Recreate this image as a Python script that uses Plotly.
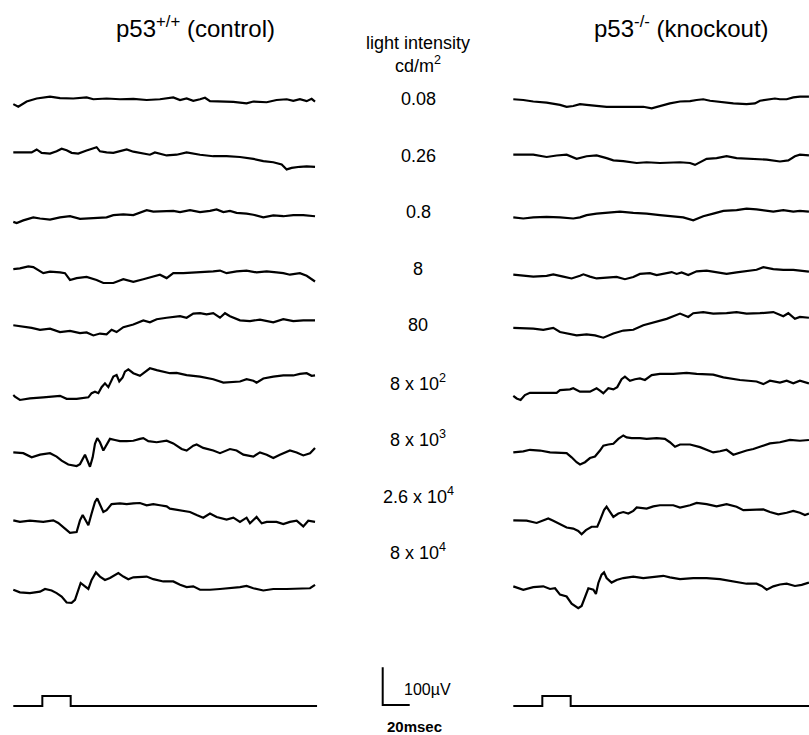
import plotly.graph_objects as go

# ---------------- data: ERG traces, (time ms, amplitude µV) ----------------
# p53+/+ (control)
ctrl_0_08 = [(0,-11),(3.7,-18),(9.9,-4),(17.3,4),(27.2,9),(34.6,5),(44.4,4),(54.3,7),(59.3,2),(69.1,4),(79,2),(88.9,3),(98.8,0),(108.6,2),(118.5,7),(123.5,0),(128.4,4),(133.3,-2),(138.3,2),(142,6),(145.7,-3),(153.1,-4),(163,-5),(172.8,-9),(177.8,-4),(187.7,-6),(195,0),(202.5,2),(207.4,-2),(212.3,2),(217.3,-3),(221,3),(223.5,-4)]
ctrl_0_26 = [(0,11),(7.4,10),(13.6,11),(17.3,19),(21,10),(27.2,8),(32.1,14),(35.8,21),(39.5,17),(43.2,10),(48.1,8),(54.3,16),(58,20),(61.7,25),(64.2,14),(69.1,11),(74.1,10),(79,14),(84,19),(88.9,13),(96.3,8),(101.2,5),(104.9,11),(108.6,8),(113.6,3),(121,5),(128.4,11),(138.3,5),(148.1,1),(158,1),(167.9,-1),(177.8,-6),(185.2,-12),(192.6,-15),(198.8,-21),(202.5,-34),(206.2,-30),(212.3,-27),(217.3,-26),(223.5,-27)]
ctrl_0_8 = [(0,-23),(2.5,-26),(7.4,-19),(14.8,-11),(19.8,-14),(27.2,-17),(34.6,-11),(42,-8),(49.4,-15),(56.8,-14),(64.2,-13),(69.1,-11),(74.1,-5),(81.5,-3),(88.9,-5),(93.8,1),(98.8,8),(103.7,4),(108.6,5),(118.5,6),(123.5,3),(130.9,8),(138.3,3),(145.7,6),(150.6,10),(155.6,3),(160.5,6),(165.4,1),(172.8,-1),(177.8,-4),(185.2,-11),(192.6,-6),(200,-8),(207.4,-5),(214.8,-5),(223.5,-8)]
ctrl_8 = [(0,2),(4.9,4),(11.1,9),(14.8,7),(22.2,-9),(27.2,-5),(34.6,-7),(38.3,-9),(42,-27),(46.9,-22),(54.3,-19),(61.7,-27),(66.7,-35),(74.1,-35),(81.5,-25),(88.9,-32),(96.3,-25),(103.7,-18),(108.6,-13),(113.6,-22),(118.5,-9),(125.9,-9),(138.3,-7),(148.1,-4),(153.1,-2),(158,-9),(165.4,-4),(172.8,-2),(180.2,-7),(187.7,-4),(195,-7),(200,-9),(204.9,-13),(212.3,-9),(217.3,-16),(223.5,-31)]
ctrl_80 = [(0,3),(7.4,0),(13.6,-4),(19.8,-9),(27.2,-6),(34.6,-15),(42,-12),(49.4,-18),(54.3,-16),(59.3,-24),(64.2,-19),(69.1,-21),(72.8,-9),(76.5,-15),(81.5,-2),(88.9,5),(96.3,16),(101.2,11),(106.2,19),(113.6,23),(123.5,27),(128.4,23),(133.3,34),(138.3,35),(143.2,32),(148.1,35),(153.1,23),(156.8,35),(160.5,27),(167.9,16),(175.3,14),(182.7,18),(192.6,11),(200,19),(207.4,14),(214.8,16),(223.5,16)]
ctrl_8e2 = [(0,-32),(1.2,-36),(4.9,-45),(12.3,-41),(22.2,-38),(34.6,-34),(39.5,-42),(46.9,-42),(55.6,-38),(58,-27),(60.5,-23),(63,-27),(65.4,-11),(67.9,-1),(70.4,-11),(71.6,-1),(74.1,17),(76.5,21),(78.5,4),(81,15),(82.7,30),(85.2,36),(88.9,26),(93.8,19),(96.3,26),(101.2,39),(106.2,34),(111.1,30),(116,26),(121,27),(128.4,21),(138.3,17),(148.1,10),(155.6,1),(163,3),(167.9,4),(172.8,10),(177.8,6),(180.2,1),(185.2,12),(192.6,17),(200,20),(207.4,20),(212.3,24),(217.3,26),(221,19),(223.5,20)]
ctrl_8e3 = [(0,-34),(7.4,-36),(13.6,-47),(19.8,-40),(27.2,-36),(32.1,-45),(35.8,-56),(40.7,-66),(46.9,-70),(49.4,-65),(53.1,-40),(54.8,-56),(56.8,-72),(58.8,-47),(60.5,-11),(62.2,4),(64.2,-7),(66.7,-29),(68.6,-16),(71.6,2),(75.3,-1),(79,-4),(84,-4),(88.9,-3),(93.8,2),(96.3,4),(100,-4),(106.2,-7),(113.6,-3),(118.5,-10),(124.7,-25),(128.4,-29),(133.3,-16),(135.8,-13),(140.7,-22),(148.1,-29),(153.1,-36),(160.5,-25),(165.4,-29),(170.4,-40),(177.8,-45),(182.7,-34),(187.7,-40),(192.6,-49),(197.5,-40),(204.9,-29),(209.9,-34),(214.8,-42),(219.8,-36),(223.5,-22)]
ctrl_2_6e4 = [(0,-64),(4.9,-68),(12.3,-65),(22.2,-68),(29.6,-64),(33.3,-71),(38.3,-86),(42,-97),(46.9,-95),(49.4,-64),(51.4,-50),(53.8,-64),(55.6,-77),(58,-46),(60.5,-15),(62.2,-6),(64.2,-24),(66.7,-42),(69.1,-37),(72.8,-21),(79,-19),(84,-21),(88.9,-19),(93.8,-18),(98.8,-24),(103.7,-21),(108.6,-24),(113.6,-27),(116,-33),(123.5,-37),(130.9,-42),(135.8,-50),(140.7,-57),(145.7,-46),(150.6,-55),(158,-62),(163,-57),(167.9,-68),(172.8,-57),(175.3,-72),(180.2,-55),(184,-72),(187.7,-68),(195,-68),(200,-74),(204.9,-68),(209.9,-65),(214.8,-80),(218.5,-65),(223.5,-68)]
ctrl_8e4 = [(0,-98),(4.9,-105),(12.3,-107),(19.8,-103),(23.5,-96),(28.4,-100),(32.1,-107),(35.8,-116),(39.5,-132),(43.2,-133),(45.7,-125),(48.1,-98),(49.9,-80),(53.1,-89),(55.6,-96),(58,-72),(61.2,-52),(64.2,-63),(67.9,-72),(71.6,-67),(75.3,-58),(77.8,-54),(81.5,-63),(85.2,-70),(88.9,-65),(93.8,-65),(98.8,-63),(103.7,-70),(111.1,-76),(118.5,-76),(123.5,-85),(128.4,-91),(133.3,-89),(138.3,-98),(145.7,-98),(153.1,-96),(160.5,-94),(167.9,-91),(172.8,-88),(177.8,-94),(185.2,-100),(192.6,-96),(202.5,-96),(212.3,-96),(219.8,-94),(223.5,-85)]

# p53-/- (knockout)
ko_0_08 = [(0,2),(7.4,0),(14.8,-4),(24.7,-7),(34.6,-13),(39.5,-18),(44.4,-16),(49.4,-11),(54.3,-13),(61.7,-16),(69.1,-18),(79,-18),(88.9,-19),(96.3,-18),(102.5,-22),(108.6,-16),(116,-9),(123.5,-4),(130.9,-3),(135.8,0),(140.7,2),(145.7,-2),(153.1,-5),(163,-9),(172.8,-11),(179,-9),(182.7,-2),(190.1,2),(193.8,4),(197.5,2),(202.5,2),(207.4,7),(212.3,9),(219,9)]
ko_0_26 = [(0,5),(7.4,4),(14.8,5),(24.7,-1),(32.1,3),(39.5,5),(46.9,-6),(54.3,1),(61.7,3),(69.1,-4),(74.1,-10),(81.5,-12),(91.4,-17),(98.8,-15),(108.6,-17),(123.5,-15),(130.9,-17),(134.6,-22),(138.3,-15),(143.2,-6),(150.6,-4),(158,1),(165.4,-4),(172.8,-6),(180.2,-6),(187.7,-8),(197.5,-13),(203.7,-10),(208.6,1),(212.3,5),(219,3)]
ko_0_8 = [(0,-11),(7.4,-14),(14.8,-11),(24.7,-10),(34.6,-11),(44.4,-14),(49.4,-11),(54.3,-5),(61.7,-1),(69.1,1),(79,4),(88.9,1),(98.8,-1),(108.6,-5),(118.5,-8),(125.9,-11),(133.3,-19),(140.7,-8),(148.1,-1),(155.6,6),(165.4,8),(172.8,12),(180.2,10),(187.7,6),(192.6,4),(200,8),(207.4,4),(212.3,6),(219,4)]
ko_8 = [(0,-13),(7.4,-16),(14.8,-18),(24.7,-16),(29.6,-12),(37,-18),(43.2,-23),(49.4,-16),(51.9,-12),(56.8,-18),(61.7,-23),(69.1,-21),(76.5,-19),(82.7,-25),(88.9,-19),(93.8,-11),(101.2,-9),(106.2,-14),(113.6,-9),(117.3,-6),(121,-11),(124.7,-7),(129.6,-14),(135.8,-4),(143.2,-2),(150.6,-7),(158,-11),(165.4,-7),(172.8,-4),(180.2,0),(185.2,7),(192.6,2),(200,0),(207.4,0),(219,-5)]
ko_80 = [(0,-4),(7.4,-4),(14.8,-6),(22.2,-9),(29.6,-4),(34.6,-15),(39.5,-18),(46.9,-24),(54.3,-21),(60.5,-24),(66.7,-30),(74.1,-19),(81.5,-11),(88.9,-9),(96.3,3),(103.7,11),(113.6,20),(123.5,34),(129.6,25),(133.3,35),(140.7,38),(148.1,34),(158,35),(165.4,38),(172.8,34),(182.7,35),(192.6,38),(200,27),(203.7,35),(208.6,20),(212.3,25),(219,23)]
ko_8e2 = [(0,-34),(2.5,-41),(5.4,-45),(8.6,-32),(12.3,-26),(22.2,-26),(32.1,-26),(34.6,-19),(42,-17),(44.4,-14),(49.4,-23),(56.8,-23),(61.7,-14),(64.2,-20),(66.7,-27),(70.4,-14),(74.1,-17),(77,-11),(80.2,10),(82.7,17),(86.4,6),(90.1,10),(93.8,12),(97.5,8),(102.5,21),(108.6,24),(118.5,24),(128.4,27),(135.8,24),(148.1,22),(155.6,15),(167.9,8),(180.2,4),(185.2,-3),(190.1,6),(197.5,1),(202.5,6),(207.4,-1),(212.3,6),(219,-1)]
ko_8e3 = [(0,-34),(7.4,-31),(12.3,-27),(19.8,-29),(27.2,-34),(34.6,-34),(39.5,-36),(43.2,-47),(46.9,-60),(49.4,-66),(53.1,-60),(56.8,-49),(60.5,-45),(64.2,-29),(66.7,-16),(70.4,-13),(74.1,-11),(77.8,2),(81.5,11),(84,6),(87.7,4),(93.8,4),(98.8,2),(106.2,4),(112.3,2),(116,-7),(119.8,-19),(123.5,-13),(130.9,-13),(138.3,-20),(143.2,-27),(148.1,-34),(153.1,-31),(158,-27),(163,-40),(167.9,-34),(172.8,-29),(177.8,-25),(182.7,-19),(190.1,-10),(197.5,-7),(204.9,-1),(212.3,-3),(219,-1)]
ko_2_6e4 = [(0,-64),(9.9,-65),(17.3,-71),(22.2,-65),(25.9,-59),(29.6,-65),(34.6,-74),(39.5,-83),(44.4,-86),(48.1,-92),(50.6,-101),(53.8,-90),(58,-81),(62.2,-81),(64.2,-64),(67.2,-37),(69.1,-28),(71.6,-42),(74.1,-55),(77.8,-46),(81.5,-42),(85.2,-46),(88.9,-39),(91.4,-30),(98.8,-33),(103.7,-27),(108.6,-24),(118.5,-24),(123.5,-30),(130.9,-24),(135.8,-18),(143.2,-21),(150.6,-27),(158,-21),(165.4,-28),(170.4,-37),(180.2,-37),(185.2,-35),(190.1,-42),(196.3,-48),(202.5,-44),(207.4,-39),(212.3,-44),(216,-50),(219,-46)]
ko_8e4 = [(0,-89),(7.4,-98),(14.8,-91),(22.2,-89),(27.2,-96),(30.9,-94),(34.6,-111),(39.5,-116),(43.2,-135),(48.1,-147),(50.6,-141),(53.1,-116),(55.6,-94),(59.3,-98),(61.2,-109),(63,-80),(65.4,-58),(67.2,-52),(69.1,-67),(72.8,-79),(76.5,-72),(81.5,-67),(88.9,-63),(96.3,-67),(103.7,-65),(111.1,-61),(116,-65),(123.5,-70),(133.3,-67),(143.2,-67),(153.1,-70),(163,-76),(172.8,-82),(180.2,-82),(184,-88),(187.7,-98),(192.6,-89),(197.5,-84),(202.5,-82),(208.6,-88),(213.6,-85),(219,-79)]

control_traces = [ctrl_0_08, ctrl_0_26, ctrl_0_8, ctrl_8, ctrl_80, ctrl_8e2, ctrl_8e3, ctrl_2_6e4, ctrl_8e4]
knockout_traces = [ko_0_08, ko_0_26, ko_0_8, ko_8, ko_80, ko_8e2, ko_8e3, ko_2_6e4, ko_8e4]

intensity_labels = ["0.08", "0.26", "0.8", "8", "80", "8 x 10<sup>2</sup>", "8 x 10<sup>3</sup>",
                    "2.6 x 10<sup>4</sup>", "8 x 10<sup>4</sup>"]

# stimulus marker (ms): off, on, off
stim_times = [0, 21.5, 21.5, 42.5, 42.5, 225]
stim_level = [0, 0, 1, 1, 0, 0]

scale_uv = 100   # vertical scale bar, µV
scale_ms = 20    # horizontal scale bar, ms

# ---------------- geometry ----------------
W, H = 809, 735
PX_PER_MS = 1.35
PX_PER_UV = 0.377
ROW0_PX, ROW_STEP_PX = 100, 56.6
LEFT_X0_PX, RIGHT_X0_PX = 13.3, 513.3
STIM_PX, STIM_H_PX = 706, 10

def px_to_ms(px):
    return px / PX_PER_MS

def px_to_uv(px):
    return -px / PX_PER_UV

FONT = "Liberation Sans, Arial, Helvetica, sans-serif"
LINE = dict(color="black", width=2.2)

fig = go.Figure()

for panel, x0_px in ((control_traces, LEFT_X0_PX), (knockout_traces, RIGHT_X0_PX)):
    x_off = px_to_ms(x0_px)
    for i, tr in enumerate(panel):
        base = px_to_uv(ROW0_PX + ROW_STEP_PX * i)
        fig.add_trace(go.Scatter(
            x=[t + x_off for t, _ in tr],
            y=[v + base for _, v in tr],
            mode="lines", line=LINE, hoverinfo="skip", showlegend=False))
    # stimulus trace
    sbase = px_to_uv(STIM_PX)
    sh = STIM_H_PX / PX_PER_UV
    fig.add_trace(go.Scatter(
        x=[t + x_off for t in stim_times],
        y=[sbase + s * sh for s in stim_level],
        mode="lines", line=dict(color="black", width=2), hoverinfo="skip", showlegend=False))

# scale bar
sb_x = px_to_ms(382.7)
sb_y = px_to_uv(705)
fig.add_trace(go.Scatter(
    x=[sb_x, sb_x, sb_x + scale_ms],
    y=[sb_y + scale_uv, sb_y, sb_y],
    mode="lines", line=dict(color="black", width=2), hoverinfo="skip", showlegend=False))

def ann(text, x_px, y_px, size, bold=False):
    fig.add_annotation(
        x=x_px / W, y=1 - y_px / H, xref="paper", yref="paper",
        text=f"<b>{text}</b>" if bold else text, showarrow=False,
        xanchor="center", yanchor="middle",
        font=dict(family=FONT, size=size, color="black"))

ann("p53<sup>+/+</sup> (control)", 195, 27, 24)
ann("p53<sup>-/-</sup> (knockout)", 681, 27, 24)
ann("light intensity", 418, 43, 18)
ann("cd/m<sup>2</sup>", 418, 65, 18)
for i, lab in enumerate(intensity_labels):
    ann(lab, 418, 99 + ROW_STEP_PX * i, 18)
ann("100µV", 427, 689, 16)
ann("20msec", 414, 726, 15, bold=True)

fig.update_layout(
    width=W, height=H,
    margin=dict(l=0, r=0, t=0, b=0),
    paper_bgcolor="white", plot_bgcolor="white",
    xaxis=dict(range=[0, px_to_ms(W)], visible=False, showgrid=False, zeroline=False,
               domain=[0, 1], fixedrange=True),
    yaxis=dict(range=[px_to_uv(H), 0], visible=False, showgrid=False, zeroline=False,
               domain=[0, 1], fixedrange=True),
    showlegend=False,
)

fig.write_html(
    "out.html",
    config={"displayModeBar": False},
    post_script="document.body.style.margin='0';document.body.style.overflow='hidden';",
)
